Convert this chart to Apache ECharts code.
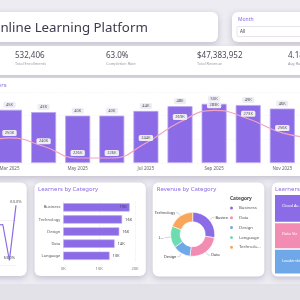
<!DOCTYPE html>
<html>
<head>
<meta charset="utf-8">
<script src="https://cdn.jsdelivr.net/npm/echarts@6/dist/echarts.min.js"></script>
<style>
html,body{margin:0;padding:0;background:#edecf2;}
#main{width:300px;height:300px;}
</style>
</head>
<body>
<div id="main"></div>
<script>
// 月度数据 (新增学员K / 报名人数K)
var months = ['Feb 2025','Mar 2025','Apr 2025','May 2025','Jun 2025','Jul 2025','Aug 2025','Sep 2025','Oct 2025','Nov 2025','Dec 2025'];
var learners = [41, 45, 43, 40, 40, 44, 48, 50, 49, 46, 47];
var enrollments = [242, 250, 240, 226, 226, 244, 269, 283, 273, 256, 250];
// 完成率
var rateMonths = ['Sep','Oct','Nov','Dec'];
var rates = [62.995, 62.996, 62.964, 63.013];
// 分类
var categories = ['Business','Technology','Design','Data','Language'];
var catLearners = [18.5, 16.4, 15.6, 14.3, 12.9];
var revNames = ['Business','Data','Design','Language','Technology'];
var revValues = [13.03, 11.61, 6.16, 7.58, 9.0];
var revColors = ['#8b6be6','#f28cb3','#6fa8e8','#6ddcb0','#f9a65a'];
// 课程
var courses = ['Cloud Architecture','Data Viz','Leadership'];
var courseLearners = [8.4, 7.8, 7.5];
var courseColors = ['#8b6be6','#f28cb3','#6fa8e8'];
// KPI
var kpiValues = ['532,406','63.0%','$47,383,952','4.18'];
var kpiNames = ['Total Enrollments','Completion Rate','Total Revenue','Avg Rating'];

var purple = '#8b6be6';
var font = 'Noto Sans';
var pieCenter = [192.7, 234.3], pieR = 22;
var myChart = echarts.init(document.getElementById('main'));

function panel(x, y, w, h) {
    return {
        type: 'rect', shape: {x: x, y: y, width: w, height: h, r: 6},
        style: {fill: '#fff', shadowBlur: 6, shadowOffsetY: 2, shadowColor: 'rgba(60,50,90,0.25)'}
    };
}
function txt(x, y, s, size, color, weight) {
    return {
        type: 'text', x: x, y: y,
        style: {text: s, font: (weight || 'normal') + ' ' + size + 'px "Noto Sans"', fill: color, textVerticalAlign: 'middle'}
    };
}

var graphics = [
    {type: 'rect', shape: {x: 0, y: 284, width: 300, height: 16}, style: {fill: '#e3e2e9'}},
    panel(-20, 12, 238, 30),
    panel(232, 12, 90, 30),
    {type: 'rect', shape: {x: 237, y: 26.5, width: 80, height: 10, r: 1}, style: {fill: '#fff', stroke: '#d6d4de', lineWidth: 0.6}},
    {type: 'rect', shape: {x: -10, y: 46, width: 320, height: 29}, style: {fill: '#fff', shadowBlur: 5, shadowOffsetY: 2, shadowColor: 'rgba(60,50,90,0.2)'}},
    panel(-20, 78, 340, 98),
    panel(-20, 182.5, 46.7, 93.5),
    panel(34.5, 182.5, 111.3, 93.5),
    panel(152.7, 182.5, 111.6, 94),
    panel(271.7, 182.5, 50, 94),
    txt(-10, 28, 'Online Learning Platform', 13.3, '#3c3c4c'),
    txt(238, 19.5, 'Month', 5, purple),
    txt(240, 31.5, 'All', 4.5, '#444'),
    {type: 'text', x: 6.5, y: 85, style: {text: 'Monthly Enrollments & Learners', font: '6px "Noto Sans"', fill: purple, textAlign: 'right', textVerticalAlign: 'middle'}},
    txt(38, 189, 'Learners by Category', 6, purple),
    txt(156.7, 189, 'Revenue by Category', 6, purple),
    txt(275, 189, 'Learners by Course', 6, purple),
    txt(230, 199, 'Category', 4.8, '#444', 'bold')
];
for (var i = 0; i < kpiValues.length; i++) {
    graphics.push(txt(15 + i * 91, 55.5, kpiValues[i], 8, '#4a4a58'));
    graphics.push(txt(15 + i * 91, 63.5, kpiNames[i], 3.8, '#9a98a6'));
}

// 环形图外部标签 (引导线 + 名称)
var revTotal = revValues.reduce(function (a, b) { return a + b; }, 0);
var acc = 0;
revNames.forEach(function (n, i) {
    var mid = (acc + revValues[i] / 2) / revTotal * Math.PI * 2;
    acc += revValues[i];
    var s = Math.sin(mid), c = Math.cos(mid);
    var right = s >= 0;
    var p0 = [pieCenter[0] + (pieR + 0.5) * s, pieCenter[1] - (pieR + 0.5) * c];
    var p1 = [pieCenter[0] + (pieR + 4) * s, pieCenter[1] - (pieR + 4) * c];
    var p2 = [p1[0] + (right ? 2 : -2), p1[1]];
    var label = n === 'Language' ? echarts.format.truncateText(n, 7, '3.8px "Noto Sans"', '...') : n;
    graphics.push({type: 'polyline', shape: {points: [p0, p1, p2]}, style: {stroke: '#aaa', lineWidth: 0.5, fill: null}});
    graphics.push({type: 'text', x: p2[0] + (right ? 1 : -1), y: p2[1],
        style: {text: label, font: '3.8px "Noto Sans"', fill: '#333', textAlign: right ? 'left' : 'right', textVerticalAlign: 'middle'}});
});

var labelBox = {fontSize: 4, color: '#555', backgroundColor: '#eeecf4', borderRadius: 1.5, padding: [1, 2.5]};

var option = {
    animation: false,
    textStyle: {fontFamily: font},
    graphic: graphics,
    legend: {
        orient: 'vertical', left: 228, top: 204.5, padding: 0,
        icon: 'circle', itemWidth: 5, itemHeight: 5, itemGap: 2.8,
        data: revNames,
        textStyle: {fontSize: 4.3, lineHeight: 5, color: '#555', width: 23, overflow: 'truncate'}
    },
    grid: [
        {left: -41.65, width: 375.1, top: 92, height: 71, outerBoundsMode: 'none'},
        {left: 63.3, width: 71.7, top: 201.3, height: 60.5, outerBoundsMode: 'none'},
        {left: -3.8, width: 19.8, top: 175, height: 90, outerBoundsMode: 'none'}
    ],
    xAxis: [
        {type: 'category', gridIndex: 0, data: months,
            axisLine: {show: false}, axisTick: {show: false},
            axisLabel: {fontSize: 4.5, color: '#666', margin: 3,
                interval: function (idx) { return idx % 2 === 1; }}},
        {type: 'value', gridIndex: 1, min: 0, max: 20, interval: 10,
            axisLabel: {fontSize: 4, color: '#777', margin: 5, formatter: '{value}K'},
            splitLine: {lineStyle: {color: '#e4e2ea', type: 'dotted', width: 0.6}}},
        {type: 'category', gridIndex: 2, data: rateMonths, boundaryGap: false, show: false}
    ],
    yAxis: [
        {type: 'value', gridIndex: 0, min: 0, max: 60, interval: 20,
            axisLabel: {show: false},
            splitLine: {lineStyle: {color: '#f0eef4', type: 'dotted', width: 0.6}}},
        {type: 'value', gridIndex: 0, min: 220, max: 305, show: false, splitLine: {show: false}},
        {type: 'category', gridIndex: 1, data: categories, inverse: true,
            axisLine: {show: false}, axisTick: {show: false},
            axisLabel: {fontSize: 4, color: '#555', margin: 3}},
        {type: 'value', gridIndex: 2, min: 62.96, max: 63.04, interval: 0.04,
            axisLine: {show: false}, axisTick: {show: false}, axisLabel: {show: false},
            splitLine: {showMaxLine: false, lineStyle: {color: '#eceaf0', width: 0.6}}}
    ],
    series: [
        {
            type: 'bar', xAxisIndex: 0, yAxisIndex: 0, data: learners, barWidth: 25,
            itemStyle: {color: purple, borderColor: '#b9a6f2', borderWidth: 0.8},
            label: Object.assign({show: true, position: 'top', distance: 2, formatter: '{c}K'}, labelBox)
        },
        {
            type: 'line', xAxisIndex: 0, yAxisIndex: 1, data: enrollments, smooth: true, z: 4,
            symbol: 'circle', symbolSize: 0.1,
            lineStyle: {color: '#f4a3c4', width: 1.2},
            itemStyle: {color: '#f4a3c4'},
            label: Object.assign({show: true, position: 'top', distance: 2, formatter: '{c}K'}, labelBox)
        },
        {
            type: 'bar', xAxisIndex: 1, yAxisIndex: 2, barWidth: 8.3,
            data: catLearners.map(function (v, i) {
                return {value: v, label: {position: i === 0 ? 'insideRight' : 'right'}};
            }),
            itemStyle: {color: purple, borderColor: '#b9a6f2', borderWidth: 0.6},
            label: {show: true, fontSize: 4, color: '#444', distance: 3,
                formatter: function (p) { return Math.round(p.value) + 'K'; }}
        },
        {
            type: 'line', xAxisIndex: 2, yAxisIndex: 3, data: rates.map(function (v) {
                var show = (v === Math.max.apply(null, rates) || v === Math.min.apply(null, rates));
                return {value: v, label: {show: show}};
            }),
            symbol: 'circle', symbolSize: 0.1, clip: false,
            lineStyle: {color: purple, width: 1.2}, itemStyle: {color: purple},
            label: {position: 'top', distance: 1, fontSize: 4, color: '#555',
                formatter: function (p) { return p.value.toFixed(1) + '%'; }}
        },
        {
            type: 'pie', center: pieCenter, radius: [12.5, pieR], startAngle: 90,
            data: revNames.map(function (n, i) {
                return {name: n, value: revValues[i], itemStyle: {color: revColors[i]}};
            }),
            itemStyle: {borderColor: '#fff', borderWidth: 0.6},
            label: {show: false}, labelLine: {show: false}
        },
        {
            type: 'treemap', left: 275, top: 195, width: 40, height: 78.5, squareRatio: 0.5,
            roam: false, nodeClick: false, breadcrumb: {show: false},
            itemStyle: {gapWidth: 1.5, borderWidth: 0},
            label: {position: 'insideTopLeft', distance: 2,
                formatter: function (p) {
                    var name = echarts.format.truncateText(p.name, 22, '4px "Noto Sans"', '...');
                    return '{n|' + name + '}\n{g|}\n{v|' + Math.round(p.value) + 'K}';
                },
                rich: {n: {fontSize: 4, color: '#fff', lineHeight: 8}, g: {lineHeight: 9},
                    v: {fontSize: 3.5, color: '#fff', lineHeight: 8}}},
            data: courses.map(function (n, i) {
                return {name: n, value: courseLearners[i], itemStyle: {color: courseColors[i]}};
            })
        }
    ]
};
myChart.setOption(option);
</script>
</body>
</html>
